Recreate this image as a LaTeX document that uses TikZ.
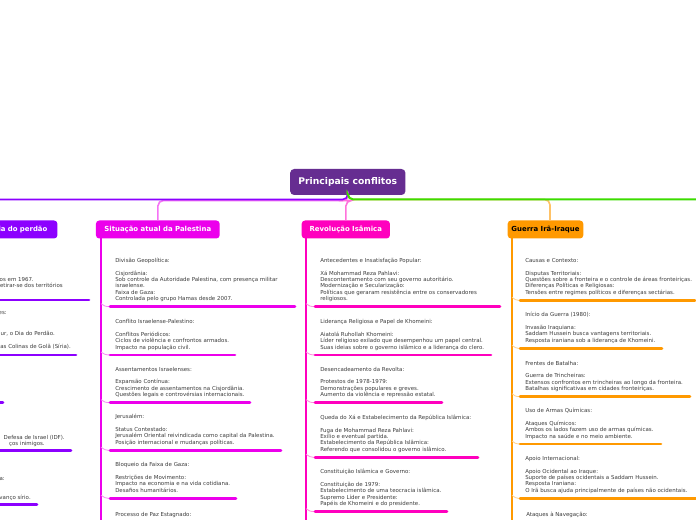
\documentclass[tikz,border=0pt]{standalone}
\usepackage{fontspec}
\setmainfont{DejaVu Sans}
\definecolor{mainC}{RGB}{102,45,145}
\definecolor{violetC}{RGB}{140,0,255}
\definecolor{magC}{RGB}{236,0,236}
\definecolor{pinkC}{RGB}{255,0,190}
\definecolor{orangeC}{RGB}{255,153,0}
\definecolor{greenC}{RGB}{60,220,0}
\definecolor{txt}{RGB}{60,60,60}
\newcommand\itemfont{\fontsize{4.1}{4.8}\selectfont}
\newcommand\hdrfont{\bfseries\fontsize{5.2}{6}\selectfont}
\newcommand\titlefont{\bfseries\fontsize{6.9}{8}\selectfont}
\tikzset{
  item/.style={anchor=south west, inner xsep=3.75pt, inner ysep=2.8pt, font=\itemfont, text=txt, align=left},
  frag/.style={anchor=base east, inner sep=0pt, font=\itemfont, text=txt},
  fragw/.style={anchor=base west, inner sep=0pt, font=\itemfont, text=txt},
  uline/.style={line width=2pt, line cap=round},
  conn/.style={line width=0.6pt},
  hdr/.style={rounded corners=2.5pt, inner sep=0pt, minimum height=13.5pt, font=\hdrfont},
  branch/.style={line width=1.2pt, rounded corners=4pt},
  col/.style={line width=1.5pt}
}
% #1 name, #2 colour, #3 x0, #4 x1, #5 underline y, #6 column x, #7 text
\newcommand\itm[7]{%
  \node[item] (#1) at (#3,#5) {#7\strut};
  \draw[conn, #2!45] (#6,#5-3) .. controls (#6+2,#5-1) and (#3-4,#5) .. (#1.south west);
  \draw[uline, #2] (#1.south west) -- (#4,#5);
}
\begin{document}
\begin{tikzpicture}[x=0.75pt,y=-0.75pt]
\useasboundingbox (0,0) rectangle (696,520);
\fill[white] (0,0) rectangle (696,520);

% main node
\node[rounded corners=3pt, fill=mainC, text=white, font=\titlefont, minimum width=86.5pt, minimum height=19.5pt, inner sep=0pt] (main) at (347.8,182) {Principais conflitos};

% headers
\node[hdr, fill=violetC, text=white, anchor=east, text width=45pt, align=right, inner xsep=7.5pt] (hL) at (57.7,229.5) {ia do perdão};
\node[hdr, fill=magC, text=white, minimum width=92.8pt] (hS) at (157.8,229.5) {Situação atual da Palestina};
\node[hdr, fill=pinkC, text=white, minimum width=66.2pt] (hR) at (345.8,229.5) {Revolução Isâmica};
\node[hdr, fill=orangeC, text=black, minimum width=56.7pt] (hG) at (545.5,229.5) {Guerra Irã-Iraque};

\coordinate (offL) at (-10,199.5);
\coordinate (offR) at (710,199.5);

% branches
\draw[branch, magC!55] (main.south) -- (348,200.5) -- (158,200.5) -- (hS.north);
\draw[branch, pinkC!55] (main.south) -- (348,200.5) -- (346,200.5) -- (hR.north);
\draw[branch, orangeC!60] (main.south) -- (348,199.5) -- (550,199.5) -- (550,220.5);
\draw[branch, violetC] (main.south) -- (348,199.5) -- (offL);
\draw[branch, greenC, line width=1.5pt] (main.south) -- (348,199.5) -- (offR);

% column lines
\draw[col, magC] (101,238.5) -- (101,525);
\draw[col, pinkC] (306,238.5) -- (306,525);
\draw[col, orangeC] (512,238.5) -- (512,525);

% Situação atual da Palestina
\itm{s1}{magC}{110}{295}{306.7}{101}{Divisão Geopolítica:\\[4.8pt]Cisjordânia:\\Sob controle da Autoridade Palestina, com presença militar\\israelense.\\Faixa de Gaza:\\Controlada pelo grupo Hamas desde 2007.}
\itm{s2}{magC}{110}{235}{355}{101}{Conflito Israelense-Palestino:\\[4.8pt]Conflitos Periódicos:\\Ciclos de violência e confrontos armados.\\Impacto na população civil.}
\itm{s3}{magC}{110}{250}{402.7}{101}{Assentamentos Israelenses:\\[4.8pt]Expansão Contínua:\\Crescimento de assentamentos na Cisjordânia.\\Questões legais e controvérsias internacionais.}
\itm{s4}{magC}{110}{281}{450.3}{101}{Jerusalém:\\[4.8pt]Status Contestado:\\Jerusalém Oriental reivindicada como capital da Palestina.\\Posição internacional e mudanças políticas.}
\itm{s5}{magC}{110}{236}{498.3}{101}{Bloqueio da Faixa de Gaza:\\[4.8pt]Restrições de Movimento:\\Impacto na economia e na vida cotidiana.\\Desafios humanitários.}
\node[fragw] (s6) at (115,516) {Processo de Paz Estagnado:};

% Revolução Isâmica
\itm{r1}{pinkC}{315}{500}{306.7}{306}{Antecedentes e Insatisfação Popular:\\[4.8pt]Xá Mohammad Reza Pahlavi:\\Descontentamento com seu governo autoritário.\\Modernização e Secularização:\\Políticas que geraram resistência entre os conservadores\\religiosos.}
\itm{r2}{pinkC}{315}{491}{355}{306}{Liderança Religiosa e Papel de Khomeini:\\[4.8pt]Aiatolá Ruhollah Khomeini:\\Líder religioso exilado que desempenhou um papel central.\\Suas ideias sobre o governo islâmico e a liderança do clero.}
\itm{r3}{pinkC}{315}{442}{402.7}{306}{Desencadeamento da Revolta:\\[4.8pt]Protestos de 1978-1979:\\Demonstrações populares e greves.\\Aumento da violência e repressão estatal.}
\itm{r4}{pinkC}{315}{478}{457.3}{306}{Queda do Xá e Estabelecimento da República Islâmica:\\[4.8pt]Fuga de Mohammad Reza Pahlavi:\\Exílio e eventual partida.\\Estabelecimento da República Islâmica:\\Referendo que consolidou o governo islâmico.}
\itm{r5}{pinkC}{315}{447}{511.7}{306}{Constituição Islâmica e Governo:\\[4.8pt]Constituição de 1979:\\Estabelecimento de uma teocracia islâmica.\\Supremo Líder e Presidente:\\Papéis de Khomeini e do presidente.}

% Guerra Irã-Iraque
\itm{g1}{orangeC}{520}{695}{300.3}{512}{Causas e Contexto:\\[4.8pt]Disputas Territoriais:\\Questões sobre a fronteira e o controle de áreas fronteiriças.\\Diferenças Políticas e Religiosas:\\Tensões entre regimes políticos e diferenças sectárias.}
\itm{g2}{orangeC}{520}{662}{348.3}{512}{Início da Guerra (1980):\\[4.8pt]Invasão Iraquiana:\\Saddam Hussein busca vantagens territoriais.\\Resposta iraniana sob a liderança de Khomeini.}
\itm{g3}{orangeC}{520}{690}{396.7}{512}{Frentes de Batalha:\\[4.8pt]Guerra de Trincheiras:\\Extensos confrontos em trincheiras ao longo da fronteira.\\Batalhas significativas em cidades fronteiriças.}
\itm{g4}{orangeC}{520}{661}{444}{512}{Uso de Armas Químicas:\\[4.8pt]Ataques Químicos:\\Ambos os lados fazem uso de armas químicas.\\Impacto na saúde e no meio ambiente.}
\itm{g5}{orangeC}{520}{700}{498.3}{512}{Apoio Internacional:\\[4.8pt]Apoio Ocidental ao Iraque:\\Suporte de países ocidentais a Saddam Hussein.\\Resposta Iraniana:\\O Irã busca ajuda principalmente de países não ocidentais.}
\node[fragw] (g6) at (526,516) {Ataques à Navegação:};

% left column (cut off at the picture's edge)
\node[frag] (l1) at (34,281.5) {os em 1967.};
\node[frag] (l2) at (63,288) {etirar-se dos territórios};
\draw[uline, violetC] (-10,300) -- (89,300);
\node[frag] (l3) at (7,315) {es:};
\node[frag] (l4) at (55,335.5) {ur, o Dia do Perdão.};
\node[frag] (l5) at (71,349) {as Colinas de Golã (Síria).};
\draw[uline, violetC] (-10,355) -- (76,355);
\draw[uline, violetC] (-10,402.7) -- (3,402.7);
\node[frag] (l6) at (65,439.2) {Defesa de Israel (IDF).};
\node[frag] (l7) at (45,445.2) {ços inimigos.};
\draw[uline, violetC] (-10,450.3) -- (71,450.3);
\node[frag] (l8) at (5,480.5) {a:};
\node[frag] (l9) at (31,499.5) {vanço sírio.};
\draw[uline, violetC] (-10,504.5) -- (37,504.5);
\end{tikzpicture}
\end{document}
